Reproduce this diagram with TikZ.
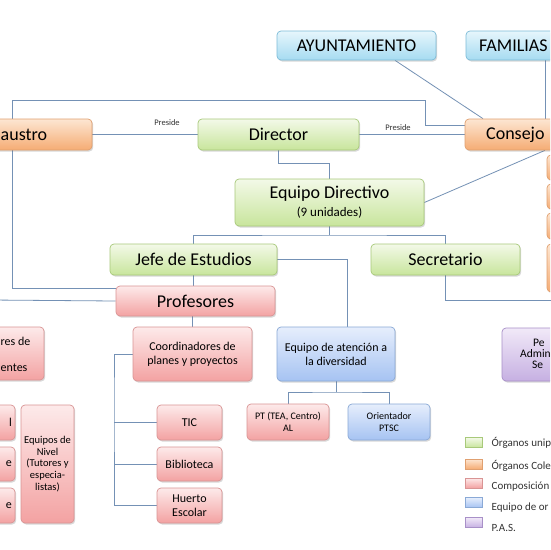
\documentclass[tikz,border=0pt]{standalone}
\usepackage{fontspec}
\setmainfont{Carlito}
\usetikzlibrary{shadows}
\pgfdeclarelayer{bg0}
\pgfdeclarelayer{lines}
\pgfsetlayers{bg0,lines,main}
\definecolor{lc}{HTML}{7491B5}
\definecolor{gT}{HTML}{F3F9E8}\definecolor{gB}{HTML}{C8E59C}\definecolor{gD}{HTML}{A8C97A}
\definecolor{oT}{HTML}{FDE6D2}\definecolor{oB}{HTML}{F5AC74}\definecolor{oD}{HTML}{E0A070}
\definecolor{cT}{HTML}{E6F6FC}\definecolor{cB}{HTML}{A6DBF1}\definecolor{cD}{HTML}{7DBCD8}
\definecolor{rT}{HTML}{FDEAEA}\definecolor{rB}{HTML}{F3A2A2}\definecolor{rD}{HTML}{D99494}
\definecolor{bT}{HTML}{E6EEFC}\definecolor{bB}{HTML}{A6C3F2}\definecolor{bD}{HTML}{8AA9D6}
\definecolor{pT}{HTML}{F1E9F8}\definecolor{pB}{HTML}{C6B0E2}\definecolor{pD}{HTML}{A890C8}
\tikzset{
  box/.style={draw, line width=0.7pt, rounded corners=4pt, inner sep=0pt, align=center,
    drop shadow={shadow xshift=1.2pt, shadow yshift=-1.5pt, opacity=0.25, fill=black!60}},
  gbox/.style={box, draw=gD, top color=gT, bottom color=gB},
  obox/.style={box, draw=oD, top color=oT, bottom color=oB},
  cbox/.style={box, draw=cD, top color=cT, bottom color=cB},
  rbox/.style={box, draw=rD, top color=rT, bottom color=rB},
  bbox/.style={box, draw=bD, top color=bT, bottom color=bB},
  pbox/.style={box, draw=pD, top color=pT, bottom color=pB},
  sw/.style={draw, line width=0.6pt, inner sep=0pt, minimum width=17pt, minimum height=10pt},
  conn/.style={draw=lc, line width=0.8pt},
  big/.style={font=\fontsize{18}{21}\selectfont},
  mid/.style={font=\fontsize{12}{14}\selectfont},
  tiny/.style={font=\fontsize{8.5}{10}\selectfont, inner sep=0pt, text=black!80},
  lg/.style={font=\fontsize{11}{13}\selectfont, anchor=west, inner sep=0pt, text=black!80},
}
\begin{document}
\begin{tikzpicture}[x=1pt,y=-1pt]
\useasboundingbox (0,0) rectangle (550,550);
\clip (0,0) rectangle (550,550);
\begin{pgfonlayer}{bg0}
\fill[white] (0,0) rectangle (550,550);
\end{pgfonlayer}

% nodes (boxes)
\node[cbox, minimum width=159pt, minimum height=29pt, big] (ayunt) at (356.5,45.5) {AYUNTAMIENTO};
\node[cbox, minimum width=134pt, minimum height=29pt] (familias) at (533,45.5) {};
\node[obox, minimum width=152pt, minimum height=31pt] (claustro) at (16,134.5) {};
\node[gbox, minimum width=161pt, minimum height=31pt, big] (director) at (278.5,134.5) {Director};
\node[obox, minimum width=155pt, minimum height=31pt] (consejo) at (542.5,134.5) {};
\node[obox, minimum width=60pt, minimum height=25pt] (o1) at (577,167.5) {};
\node[obox, minimum width=60pt, minimum height=25pt] (o2) at (577,196.5) {};
\node[obox, minimum width=60pt, minimum height=26pt] (o3) at (577,226) {};
\node[obox, minimum width=60pt, minimum height=48pt] (o4) at (577,268) {};
\node[gbox, minimum width=189pt, minimum height=47pt, big] (eqdir) at (329.5,202.5)
  {Equipo Directivo\\[-3pt]{\fontsize{13}{15}\selectfont (9 unidades)}};
\node[gbox, minimum width=167pt, minimum height=31pt, big] (jefe) at (193.5,259.5) {Jefe de Estudios};
\node[gbox, minimum width=149pt, minimum height=31pt, big] (secret) at (445.5,259.5) {Secretario};
\node[rbox, minimum width=159pt, minimum height=30pt, big] (profes) at (195.5,301) {Profesores};
\node[rbox, minimum width=119pt, minimum height=54pt, mid] (coord) at (192.5,354) {Coordinadores de\\planes y proyectos};
\node[bbox, minimum width=118pt, minimum height=54pt, mid] (eqatn) at (336,354) {Equipo de atención a\\la diversidad};
\node[pbox, minimum width=118pt, minimum height=53pt] (pas) at (561,354.5) {};
\node[rbox, minimum width=124pt, minimum height=53pt] (leftco) at (-18,353.5) {};
\node[rbox, minimum width=55pt, minimum height=35pt] (lb1) at (-12.5,422.5) {};
\node[rbox, minimum width=55pt, minimum height=34pt] (lb2) at (-12.5,464) {};
\node[rbox, minimum width=55pt, minimum height=35pt] (lb3) at (-12.5,505.5) {};
\node[rbox, minimum width=53pt, minimum height=118pt, font=\fontsize{10.5}{11.8}\selectfont] (nivel) at (47.5,464)
  {Equipos de\\Nivel\\(Tutores y\\especia-\\listas)};
\node[rbox, minimum width=65pt, minimum height=35pt, mid] (tic) at (189.5,422.5) {TIC};
\node[rbox, minimum width=65pt, minimum height=34pt, mid] (biblio) at (189.5,464) {Biblioteca};
\node[rbox, minimum width=65pt, minimum height=35pt, mid] (huerto) at (189.5,505.5) {Huerto\\Escolar};
\node[rbox, minimum width=82pt, minimum height=36pt, font=\fontsize{10}{12}\selectfont] (pt) at (288,422) {PT (TEA, Centro)\\AL};
\node[bbox, minimum width=82pt, minimum height=36pt, font=\fontsize{10}{12}\selectfont] (orient) at (389,422) {Orientador\\PTSC};

% texts of boxes cut by the edge
\node[big, anchor=west, inner sep=0pt] (tfam) at (479,45.5) {FAMILIAS};
\node[big, anchor=west, inner sep=0pt] (tcla) at (0.5,134.5) {austro};
\node[big, anchor=west, inner sep=0pt] (tcon) at (486,134.5) {Consejo};
\node[mid, anchor=west, inner sep=0pt] (tl1) at (0.5,341) {res de};
\node[mid, anchor=west, inner sep=0pt] (tl2) at (0.5,368) {entes};
\node[mid, anchor=east, inner sep=0pt] (tb1) at (12,422.5) {l};
\node[mid, anchor=east, inner sep=0pt] (tb2) at (12,464) {e};
\node[mid, anchor=east, inner sep=0pt] (tb3) at (12,505.5) {e};
\node[font=\fontsize{11.5}{13}\selectfont, anchor=west, inner sep=0pt] (tp1) at (533,343) {Pe};
\node[font=\fontsize{11.5}{13}\selectfont, anchor=west, inner sep=0pt] (tp2) at (520,354) {Admin};
\node[font=\fontsize{11.5}{13}\selectfont, anchor=west, inner sep=0pt] (tp3) at (532,365) {Se};

% edge labels
\node[tiny] (pre1) at (167,123) {Preside};
\node[tiny] (pre2) at (398,128) {Preside};

% legend
\node[sw, draw=gD, top color=gT, bottom color=gB] (s1) at (474,442.5) {};
\node[sw, draw=oD, top color=oT, bottom color=oB] (s2) at (474,464) {};
\node[sw, draw=rD, top color=rT, bottom color=rB] (s3) at (474,483) {};
\node[sw, draw=bD, top color=bT, bottom color=bB] (s4) at (474,502.5) {};
\node[sw, draw=pD, top color=pT, bottom color=pB] (s5) at (474,522.5) {};
\node[lg] (l1) at (491.5,443) {Órganos unip};
\node[lg] (l2) at (491.5,465.5) {Órganos Cole};
\node[lg] (l3) at (491.5,487) {Composición};
\node[lg] (l4) at (491.5,507.5) {Equipo de or};
\node[lg] (l5) at (491.5,527.5) {P.A.S.};

% connectors (behind the boxes)
\begin{pgfonlayer}{lines}
\coordinate (offL) at (-10,300);
\coordinate (offR) at (560,300);
\draw[conn] (profes.west |- 0,288) -| (12,100) -| (425,125) -- (consejo.west |- 0,125);
\draw[conn] (claustro.east) -- (director.west);
\draw[conn] (director.east) -- (consejo.west);
\draw[conn] (ayunt.south -| 395,0) -- (consejo.north -| 483,0);
\draw[conn] (familias.south -| 545,0) -- (consejo.north -| 545,0);
\draw[conn] (consejo.south -| 545,0) -- (eqdir.east);
\draw[conn] (director.south) |- (329.5,163) -- (eqdir.north);
\coordinate (b1) at (329.5,235);
\draw[conn] (eqdir.south) -- (b1);
\draw[conn] (jefe.north) |- (b1) -| (secret.north);
\draw[conn] (jefe.south) -- (jefe.south |- profes.north);
\draw[conn] (jefe.east) -| (eqatn.north -| 347,0);
\draw[conn] (secret.south) |- (offR);
\draw[conn] (offL) -- (profes.west);
\draw[conn] (coord.north |- profes.south) -- (coord.north);
\draw[conn] (coord.west) -| (114,400) |- (huerto.west);
\draw[conn] (tic.west -| 114,0) -- (tic.west);
\draw[conn] (biblio.west -| 114,0) -- (biblio.west);
\coordinate (b2) at (336,392);
\draw[conn] (eqatn.south) -- (b2);
\draw[conn] (pt.north) |- (b2) -| (orient.north);
\end{pgfonlayer}
\end{tikzpicture}
\end{document}
